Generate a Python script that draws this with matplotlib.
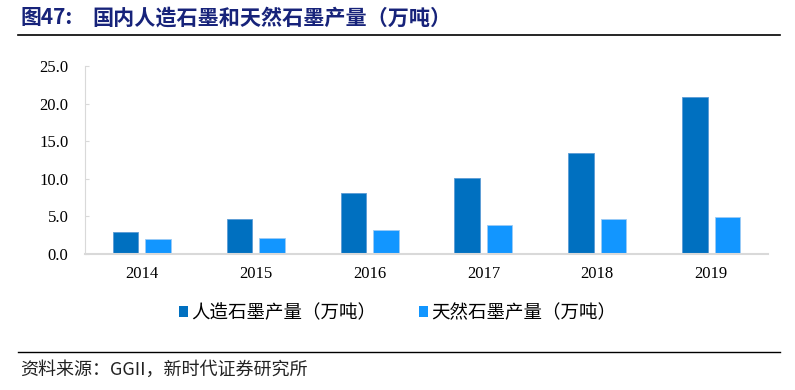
import matplotlib
matplotlib.use("Agg")
import matplotlib.pyplot as plt
from matplotlib.lines import Line2D
from matplotlib.patches import Patch
import numpy as np

years = ["2014", "2015", "2016", "2017", "2018", "2019"]
synthetic = [2.9, 4.6, 8.1, 10.1, 13.4, 20.9]
natural = [1.95, 2.1, 3.2, 3.9, 4.6, 4.9]
series_names = ["人造石墨产量（万吨）", "天然石墨产量（万吨）"]
yticks = [0.0, 5.0, 10.0, 15.0, 20.0, 25.0]
title_num = "图47:"
title = "国内人造石墨和天然石墨产量（万吨）"
source = "资料来源：GGII，新时代证券研究所"

c_dark = "#0070C0"
c_light = "#1296FF"
navy = "#17237A"
cjk = ["Noto Sans CJK SC", "DejaVu Sans"]
serif = ["Liberation Serif", "DejaVu Serif"]

fig = plt.figure(figsize=(7.95, 3.9), dpi=100)
ax = fig.add_axes([85/795, 1 - 254/390, 683/795, (254-66)/390])

x = np.arange(len(years))
w = 0.224
off = 0.143
ax.bar(x - off, synthetic, width=w, color=c_dark, edgecolor="#5B9BD5", linewidth=0.6)
ax.bar(x + off, natural, width=w, color=c_light, edgecolor="#9CCBF5", linewidth=0.6)

ax.set_xlim(-0.5, len(years) - 0.5)
ax.set_ylim(0, 25)
ax.set_yticks(yticks)
ax.set_yticklabels([f"{v:.1f}" for v in yticks], fontfamily=serif, fontsize=12)
ax.set_xticks(x)
ax.set_xticklabels(years, fontfamily=serif, fontsize=12)
ax.tick_params(axis="x", length=0, pad=9)
ax.tick_params(axis="y", direction="in", length=3, color="#D9D9D9", pad=12)
for s in ["top", "right"]:
    ax.spines[s].set_visible(False)
ax.spines["left"].set_color("#D9D9D9")
ax.spines["bottom"].set_color("#D9D9D9")
ax.spines["bottom"].set_linewidth(1.5)

handles = [Patch(facecolor=c_dark), Patch(facecolor=c_light)]
leg = fig.legend(handles, series_names, loc="center", bbox_to_anchor=(0.5, 1 - 313/390),
                 ncol=2, frameon=False, prop={"family": cjk, "size": 13.3},
                 handlelength=0.5, handleheight=0.5, handletextpad=0.15, columnspacing=2.3)

fig.text(20/795, 1 - 18/390, title_num, fontfamily=cjk, fontsize=15, fontweight="bold",
         color=navy, va="center", ha="left")
fig.text(92/795, 1 - 18/390, title, fontfamily=cjk, fontsize=15.2, fontweight="bold",
         color=navy, va="center", ha="left")
fig.add_artist(Line2D([18/795, 780/795], [1 - 35/390, 1 - 35/390], color="black", linewidth=1.2))
fig.add_artist(Line2D([18/795, 780/795], [1 - 352/390, 1 - 352/390], color="black", linewidth=1.0))
fig.text(20/795, 1 - 370/390, source, fontfamily=cjk, fontsize=13, color="#222222",
         va="center", ha="left")

fig.savefig("out.png", dpi=100)
